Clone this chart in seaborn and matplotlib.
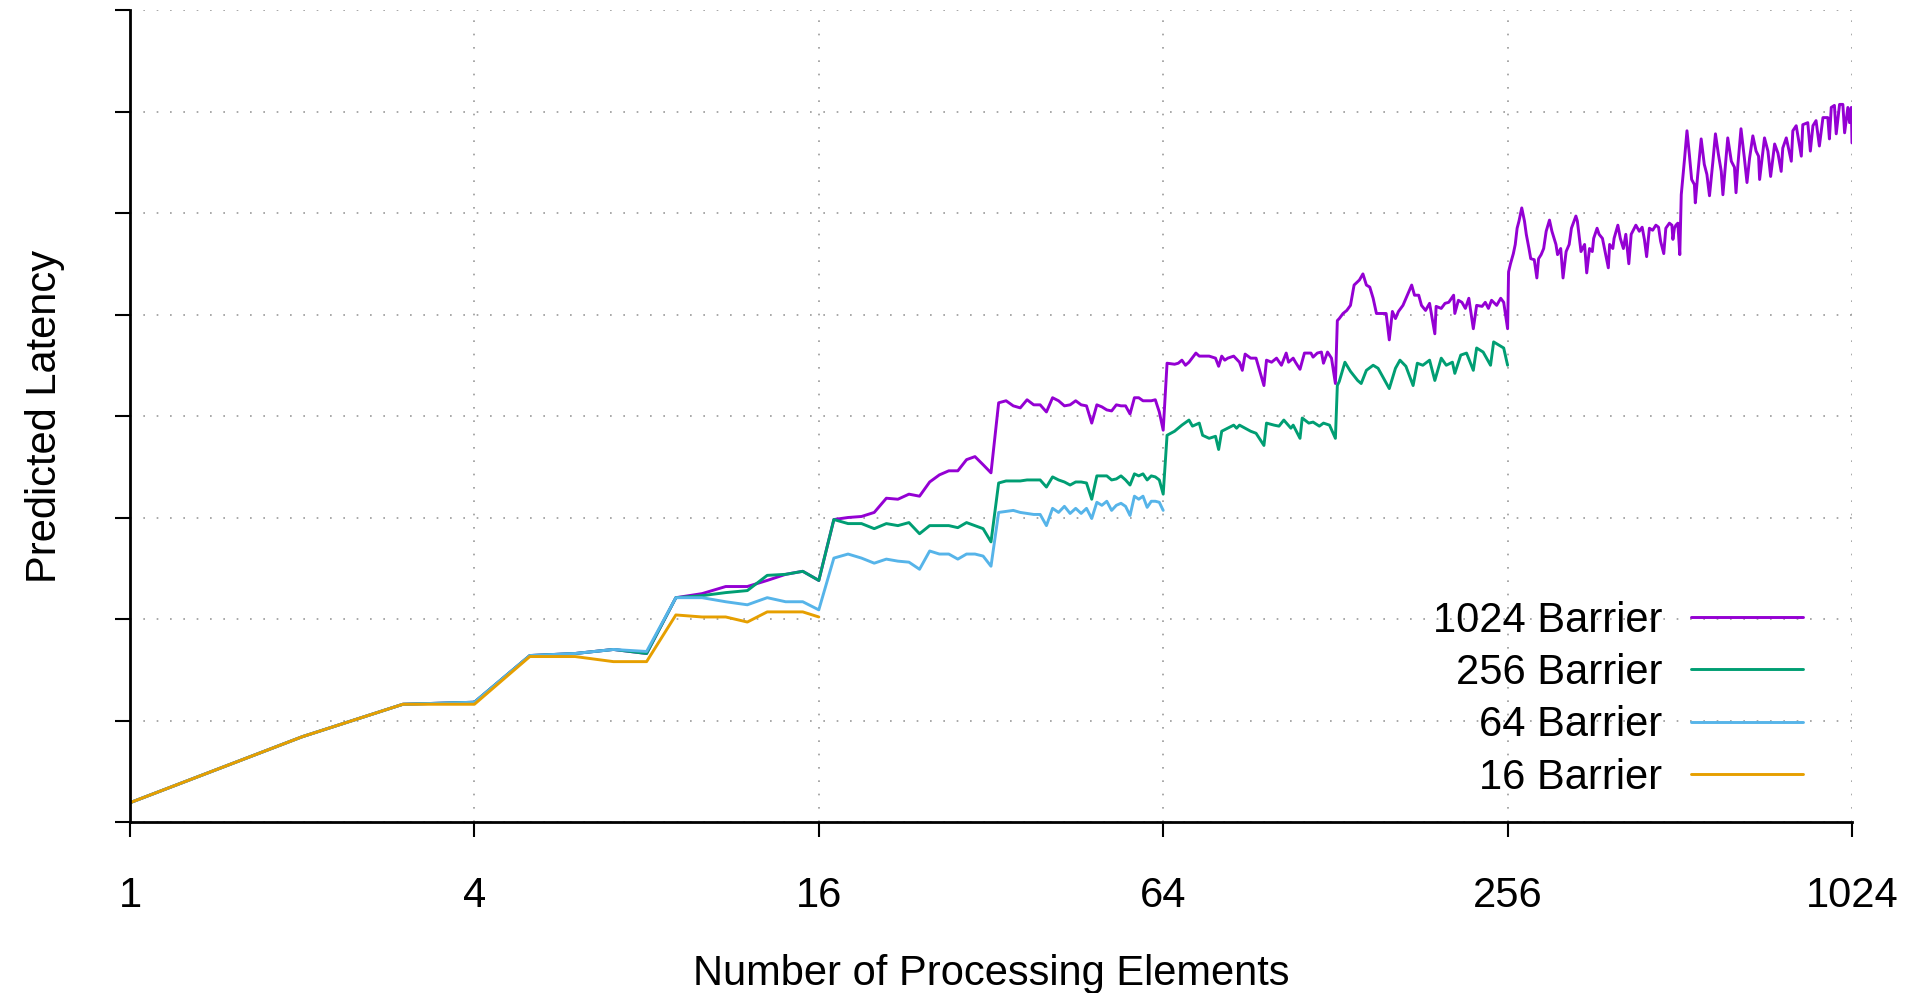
import numpy as np
import pandas as pd
import matplotlib
matplotlib.use("Agg")
import matplotlib.pyplot as plt
from matplotlib.lines import Line2D
import seaborn as sns

# Values (latency in grid units, y axis has no labels)
pe_16 = list(range(1, 17))
lat_16 = [0.19, 0.84, 1.16, 1.16, 1.63, 1.63, 1.58, 1.58,
          2.04, 2.02, 2.02, 1.97, 2.07, 2.07, 2.07, 2.02]

pe_64 = list(range(1, 65))
lat_64 = [0.19, 0.84, 1.16, 1.18, 1.64, 1.66, 1.70, 1.68,
          2.21, 2.21, 2.17, 2.14, 2.21, 2.17, 2.17, 2.09,
          2.60, 2.64, 2.60, 2.55, 2.59, 2.57, 2.56, 2.49,
          2.67, 2.64, 2.64, 2.59, 2.64, 2.64, 2.62, 2.52,
          3.05, 3.06, 3.07, 3.05, 3.04, 3.03, 3.03, 2.92,
          3.09, 3.05, 3.11, 3.04, 3.09, 3.04, 3.09, 2.99,
          3.15, 3.12, 3.16, 3.07, 3.12, 3.14, 3.11, 3.02,
          3.21, 3.18, 3.21, 3.10, 3.16, 3.16, 3.15, 3.07]

pe_256 = list(range(1, 65)) + [
    65, 67, 69, 71, 72, 74, 75, 77, 79, 80, 81, 83, 85, 86, 87, 89, 91, 93,
    96, 97, 100, 102, 104, 107, 108, 111, 112, 115, 117, 120, 122, 125, 128,
    129, 130, 133, 136, 140, 142, 145, 149, 152, 159, 163, 166, 170, 175, 178,
    182, 187, 191, 196, 200, 205, 207, 212, 217, 223, 226, 232, 239, 242, 247,
    252, 256]
lat_256 = [0.19, 0.84, 1.16, 1.18, 1.64, 1.66, 1.70, 1.66,
           2.21, 2.23, 2.26, 2.28, 2.43, 2.44, 2.47, 2.38,
           2.98, 2.94, 2.94, 2.89, 2.94, 2.92, 2.95, 2.84,
           2.92, 2.92, 2.92, 2.90, 2.95, 2.92, 2.89, 2.76,
           3.34, 3.36, 3.36, 3.36, 3.37, 3.37, 3.37, 3.30,
           3.40, 3.37, 3.35, 3.32, 3.35, 3.35, 3.34, 3.18,
           3.41, 3.41, 3.41, 3.37, 3.38, 3.41, 3.37, 3.32,
           3.43, 3.41, 3.43, 3.37, 3.41, 3.40, 3.37, 3.23,
           3.81, 3.85, 3.91, 3.96, 3.90, 3.93, 3.81, 3.78, 3.80, 3.67, 3.85,
           3.88, 3.91, 3.88, 3.91, 3.88, 3.85, 3.83, 3.71, 3.93, 3.91, 3.90,
           3.96, 3.88, 3.91, 3.78, 3.98, 3.93, 3.94, 3.90, 3.93, 3.91, 3.78,
           4.30, 4.34, 4.53, 4.44, 4.35, 4.32, 4.45, 4.50, 4.47, 4.27, 4.47,
           4.55, 4.49, 4.30, 4.52, 4.50, 4.55, 4.35, 4.57, 4.50, 4.53, 4.42,
           4.60, 4.62, 4.45, 4.67, 4.63, 4.50, 4.73, 4.70, 4.67, 4.50]

pe_1024 = list(range(1, 65)) + [
    65, 67, 68, 69, 70, 71, 73, 74, 77, 79, 80, 81, 82, 83, 85, 87, 88, 89,
    91, 93, 96, 97, 99, 101, 103, 105, 106, 108, 109, 111, 113, 116, 117, 119,
    121, 122, 124, 126, 128,
    129, 130, 132, 134, 136, 138, 141, 143, 145, 147, 149, 151, 154, 157, 159,
    161, 163, 165, 168, 171, 174, 176, 179, 181, 184, 187, 191, 192, 196, 199,
    202, 206, 207, 210, 213, 216, 219, 223, 226, 231, 234, 237, 240, 245, 249,
    252, 256,
    257, 259, 262, 264, 266, 268, 271, 274, 276, 279, 281, 285, 288, 290, 293,
    296, 299, 303, 306, 311, 313, 317, 320, 324, 328, 331, 337, 339, 344, 349,
    352, 356, 360, 362, 367, 370, 375, 384, 386, 391, 393, 399, 403, 408, 412,
    417, 421, 429, 435, 440, 444, 448, 453, 459, 465, 470, 474, 480, 484, 491,
    496, 498, 501, 504, 508, 512,
    515, 522, 527, 532, 537, 543, 545, 550, 558, 565, 571, 577, 585, 591, 598,
    605, 609, 621, 630, 638, 642, 647, 655, 664, 671, 678, 687, 696, 703, 706,
    720, 730, 738, 750, 760, 770, 775, 786, 802, 807, 818, 835, 840, 857, 866,
    875, 886, 898, 911, 929, 935, 942, 954, 961, 974, 987, 994, 1007, 1014,
    1021, 1024]
lat_1024 = [0.19, 0.84, 1.16, 1.18, 1.64, 1.66, 1.70, 1.66,
            2.21, 2.25, 2.32, 2.32, 2.38, 2.44, 2.47, 2.38,
            2.98, 3.00, 3.01, 3.05, 3.19, 3.18, 3.23, 3.21,
            3.35, 3.42, 3.46, 3.46, 3.57, 3.60, 3.52, 3.44,
            4.13, 4.15, 4.10, 4.08, 4.16, 4.11, 4.11, 4.04,
            4.18, 4.15, 4.10, 4.11, 4.15, 4.11, 4.10, 3.93,
            4.11, 4.09, 4.06, 4.05, 4.11, 4.10, 4.10, 4.02,
            4.18, 4.18, 4.15, 4.15, 4.15, 4.16, 4.04, 3.86,
            4.52, 4.51, 4.52, 4.55, 4.50, 4.53, 4.62, 4.59, 4.59, 4.57, 4.49,
            4.59, 4.55, 4.57, 4.59, 4.53, 4.45, 4.61, 4.57, 4.57, 4.30, 4.55,
            4.53, 4.57, 4.50, 4.62, 4.53, 4.57, 4.53, 4.46, 4.62, 4.62, 4.58,
            4.62, 4.63, 4.52, 4.63, 4.57, 4.32,
            4.94, 4.96, 5.01, 5.04, 5.09, 5.29, 5.34, 5.40, 5.29, 5.27, 5.16,
            5.01, 5.01, 5.01, 4.75, 5.03, 4.96, 5.03, 5.09, 5.19, 5.29, 5.19,
            5.19, 5.09, 5.04, 5.11, 4.81, 5.08, 5.06, 5.11, 5.12, 5.19, 5.01,
            5.14, 5.12, 5.06, 5.16, 4.86, 5.09, 5.08, 5.12, 5.06, 5.14, 5.09,
            5.16, 5.12, 4.86,
            5.42, 5.50, 5.60, 5.69, 5.85, 5.92, 6.05, 5.92, 5.79, 5.65, 5.55,
            5.54, 5.36, 5.55, 5.59, 5.65, 5.82, 5.93, 5.82, 5.69, 5.59, 5.65,
            5.36, 5.62, 5.69, 5.85, 5.97, 5.92, 5.62, 5.69, 5.41, 5.65, 5.62,
            5.75, 5.85, 5.79, 5.75, 5.46, 5.69, 5.65, 5.75, 5.88, 5.75, 5.65,
            5.79, 5.50, 5.79, 5.88, 5.82, 5.86, 5.74, 5.57, 5.85, 5.83, 5.88,
            5.86, 5.72, 5.60, 5.85, 5.90, 5.88, 5.74, 5.85, 5.88, 5.90, 5.59,
            6.18, 6.54, 6.81, 6.58, 6.33, 6.28, 6.10, 6.36, 6.73, 6.48, 6.38,
            6.17, 6.51, 6.78, 6.58, 6.41, 6.18, 6.74, 6.51, 6.45, 6.20, 6.48,
            6.83, 6.54, 6.30, 6.54, 6.76, 6.61, 6.56, 6.33, 6.74, 6.61, 6.36,
            6.68, 6.59, 6.41, 6.64, 6.74, 6.51, 6.81, 6.86, 6.56, 6.87, 6.89,
            6.61, 6.86, 6.91, 6.66, 6.94, 6.94, 6.73, 7.04, 7.06, 6.78, 7.07,
            7.07, 6.79, 7.04, 6.89, 7.04, 6.69]

series_names = ['1024 Barrier', '256 Barrier', '64 Barrier', '16 Barrier']
colors = ['#9400D3', '#009E73', '#56B4E9', '#E69F00']
x_ticks = [1, 4, 16, 64, 256, 1024]
x_ticklabels = ['1', '4', '16', '64', '256', '1024']

df = pd.concat([
    pd.DataFrame({'pe': pe_1024, 'lat': lat_1024, 'series': series_names[0]}),
    pd.DataFrame({'pe': pe_256, 'lat': lat_256, 'series': series_names[1]}),
    pd.DataFrame({'pe': pe_64, 'lat': lat_64, 'series': series_names[2]}),
    pd.DataFrame({'pe': pe_16, 'lat': lat_16, 'series': series_names[3]}),
], ignore_index=True)

sns.set_style('ticks')
plt.rcParams['font.family'] = ['Liberation Sans', 'DejaVu Sans']
plt.rcParams['text.color'] = 'black'
plt.rcParams['axes.labelcolor'] = 'black'
plt.rcParams['xtick.color'] = 'black'
plt.rcParams['ytick.color'] = 'black'

fig = plt.figure(figsize=(19.09, 9.93), dpi=100)
ax = fig.add_axes([130 / 1909, 171 / 993, 1722 / 1909, 812 / 993])

sns.lineplot(data=df, x='pe', y='lat', hue='series', hue_order=series_names,
             palette=dict(zip(series_names, colors)), estimator=None,
             linewidth=2.1, legend=False, ax=ax)

ax.set_xscale('log', base=2)
ax.set_xlim(1, 1024)
ax.set_ylim(0, 8)
ax.set_xticks(x_ticks)
ax.set_xticklabels(x_ticklabels)
ax.xaxis.set_minor_locator(matplotlib.ticker.NullLocator())
ax.set_yticks(range(0, 9))
ax.tick_params(axis='y', labelleft=False, length=11, width=1.5)
ax.tick_params(axis='x', labelsize=30, length=11, width=1.5, pad=28)

ax.grid(True, color='#999999', linestyle=(0, (1, 7)), linewidth=1.2)
ax.set_axisbelow(True)
for side in ['top', 'right']:
    ax.spines[side].set_visible(False)
for side in ['left', 'bottom']:
    ax.spines[side].set_linewidth(2)
    ax.spines[side].set_color('black')

ax.set_xlabel('Number of Processing Elements', fontsize=30, labelpad=27)
ax.set_ylabel('Predicted Latency', fontsize=30, labelpad=36)

handles = [Line2D([0], [0], color=c, lw=2.1) for c in colors]
ax.legend(handles, series_names, loc='lower right', frameon=False,
          markerfirst=False, fontsize=30, handlelength=2.7, handletextpad=0.67,
          labelspacing=0.3, borderpad=0, borderaxespad=0,
          bbox_to_anchor=(1803 / 1909, 1 - 798 / 993),
          bbox_transform=fig.transFigure)

fig.savefig('out.png', dpi=100)
